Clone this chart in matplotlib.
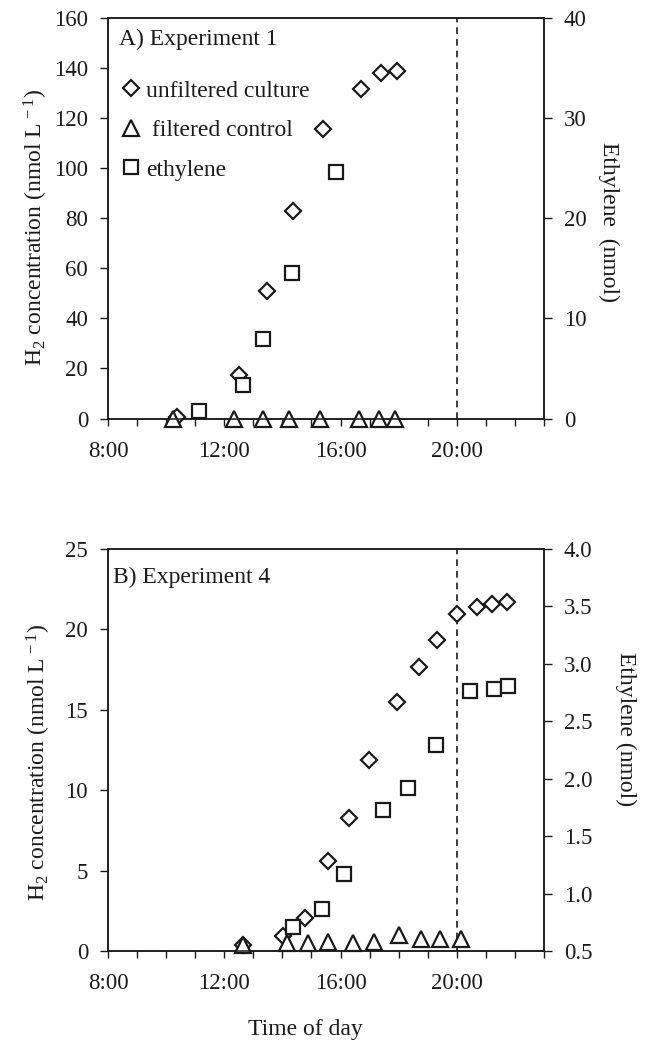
import numpy as np
import matplotlib
matplotlib.use("Agg")
import matplotlib.pyplot as plt
from matplotlib.ticker import MultipleLocator, FuncFormatter

plt.rcParams['font.family'] = ['Liberation Serif', 'DejaVu Serif']
plt.rcParams['mathtext.fontset'] = 'custom'
plt.rcParams['mathtext.rm'] = 'Liberation Serif'
plt.rcParams['mathtext.it'] = 'Liberation Serif:italic'

# --- data (time in decimal hours) ---
# Experiment 1
a_unf_t = [10.36, 12.51, 13.46, 14.35, 15.41, 16.69, 17.38, 17.93]
a_unf_h2 = [0.5, 17.2, 50.8, 82.8, 115.6, 131.6, 138.1, 138.8]
a_fil_t = [10.25, 12.33, 13.34, 14.23, 15.29, 16.64, 17.32, 17.87]
a_fil_h2 = [0, 0, 0, 0, 0, 0, 0, 0]
a_eth_t = [11.14, 12.65, 13.34, 14.32, 15.84]
a_eth = [0.73, 3.37, 7.97, 14.57, 24.63]

# Experiment 4
b_unf_t = [12.65, 14.03, 14.78, 15.58, 16.30, 16.99, 17.95, 18.70, 19.33,
           20.00, 20.68, 21.20, 21.72]
b_unf_h2 = [0.37, 0.93, 2.03, 5.62, 8.25, 11.88, 15.47, 17.68, 19.34,
            20.94, 21.41, 21.58, 21.72]
b_fil_t = [12.65, 14.15, 14.89, 15.58, 16.44, 17.16, 18.02, 18.77, 19.42, 20.14]
b_fil_h2 = [0.37, 0.48, 0.48, 0.58, 0.48, 0.58, 1.0, 0.73, 0.73, 0.73]
b_eth_t = [14.37, 15.37, 16.12, 17.47, 18.33, 19.28, 20.45, 21.28, 21.77]
b_eth = [0.71, 0.87, 1.17, 1.73, 1.92, 2.29, 2.76, 2.78, 2.81]

dark = '#1a1a1a'
fs_tick = 16.5
fs_text = 17

fig = plt.figure(figsize=(6.47, 10.46), dpi=100)
axA = fig.add_axes([0.1669, 0.5999, 0.6739, 0.3829])
axB = fig.add_axes([0.1669, 0.0908, 0.6739, 0.3843])


def style(ax, ax2, ylim, ystep, y2lim, y2step, y2fmt):
    ax.set_xlim(8, 23)
    ax.set_ylim(*ylim)
    ax2.set_ylim(*y2lim)
    ax.xaxis.set_major_locator(MultipleLocator(4))
    ax.xaxis.set_minor_locator(MultipleLocator(1))
    ax.xaxis.set_major_formatter(FuncFormatter(lambda v, p: f"{int(v)}:00"))
    ax.yaxis.set_major_locator(MultipleLocator(ystep))
    ax2.yaxis.set_major_locator(MultipleLocator(y2step))
    ax2.yaxis.set_major_formatter(FuncFormatter(lambda v, p: y2fmt.format(v)))
    for a in (ax, ax2):
        for s in a.spines.values():
            s.set_color(dark)
            s.set_linewidth(1.1)
    ax.tick_params(axis='x', which='both', direction='out', length=5, width=1.0,
                   color=dark, labelsize=fs_tick, pad=11, labelcolor=dark)
    ax.tick_params(axis='y', direction='out', length=5.8, width=1.0, color=dark,
                   labelsize=fs_tick, pad=8.5, labelcolor=dark)
    ax2.tick_params(axis='y', direction='out', length=5.8, width=1.0, color=dark,
                    labelsize=fs_tick, pad=8.5, labelcolor=dark)
    ax.axvline(20, color=dark, lw=1.2, ls=(0, (4, 3)), zorder=1)


mk = dict(linestyle='none', markerfacecolor='white', markeredgecolor=dark,
          markeredgewidth=1.6, clip_on=False, zorder=3)

# Panel A
axA2 = axA.twinx()
style(axA, axA2, (0, 160), 20, (0, 40), 10, "{:.0f}")
h1, = axA.plot(a_unf_t, a_unf_h2, marker='D', markersize=8.2, **mk)
h2, = axA.plot(a_fil_t, a_fil_h2, marker='^', markersize=11.5, **mk)
h3, = axA2.plot(a_eth_t, a_eth, marker='s', markersize=9.8, **mk)
axA.text(0.025, 0.9326, "A) Experiment 1", transform=axA.transAxes,
         fontsize=fs_text, color=dark, va='baseline', ha='left')
leg = axA2.legend([h1, h2, h3], ["unfiltered culture", " filtered control", "ethylene"],
                  loc='upper left', bbox_to_anchor=(0.025, 0.845), frameon=False,
                  fontsize=fs_text, handlelength=1.0, handletextpad=0.15,
                  labelspacing=0.76, borderpad=0, borderaxespad=0, numpoints=1)
for t in leg.get_texts():
    t.set_color(dark)
axA.set_ylabel("H$_2$ concentration (nmol L$^{\\,-1}$)", fontsize=fs_text, color=dark)
axA.yaxis.set_label_coords(-0.133, 0.476)
axA2.set_ylabel("Ethylene  (nmol)", fontsize=fs_text, color=dark, rotation=270,
                va='bottom')
axA2.yaxis.set_label_coords(1.124, 0.49)

# Panel B
axB2 = axB.twinx()
style(axB, axB2, (0, 25), 5, (0.5, 4.0), 0.5, "{:.1f}")
axB.plot(b_unf_t, b_unf_h2, marker='D', markersize=8.2, **mk)
axB.plot(b_fil_t, b_fil_h2, marker='^', markersize=11.5, **mk)
axB2.plot(b_eth_t, b_eth, marker='s', markersize=9.8, **mk)
axB.text(0.012, 0.916, "B) Experiment 4", transform=axB.transAxes,
         fontsize=fs_text, color=dark, va='baseline', ha='left')
axB.set_ylabel("H$_2$ concentration (nmol L$^{\\,-1}$)", fontsize=fs_text, color=dark)
axB.yaxis.set_label_coords(-0.126, 0.468)
axB2.set_ylabel("Ethylene (nmol)", fontsize=fs_text, color=dark, rotation=270,
                va='bottom')
axB2.yaxis.set_label_coords(1.163, 0.551)
axB.set_xlabel("Time of day", fontsize=fs_text, color=dark)
axB.xaxis.set_label_coords(0.453, -0.169)

fig.savefig("out.png", dpi=100)
